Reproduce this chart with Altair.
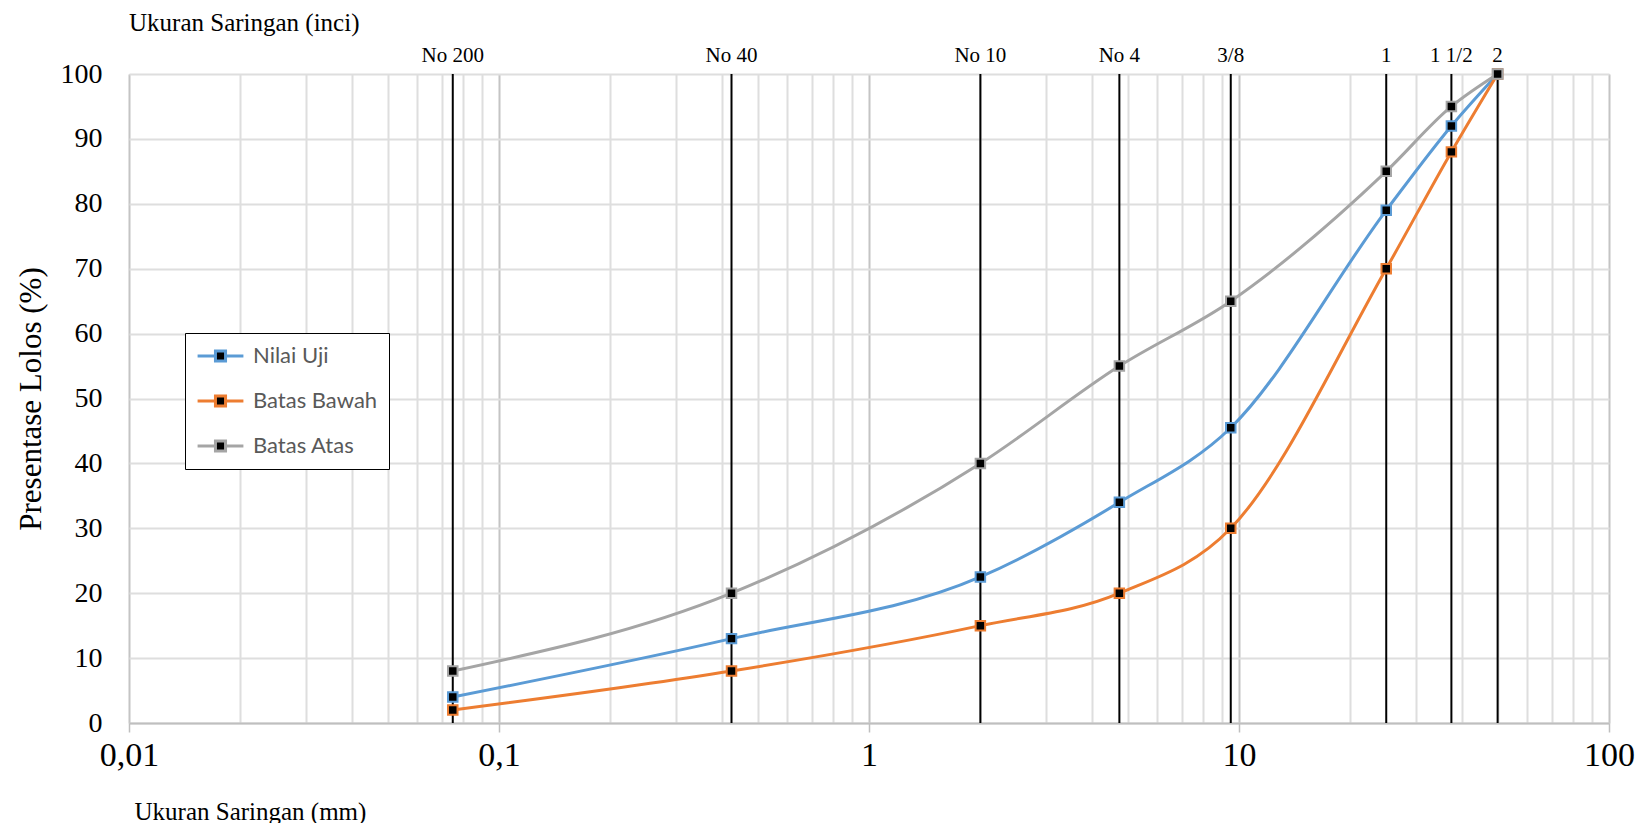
import altair as alt
import pandas as pd

# ---- data ----
sieve_mm = [0.075, 0.425, 2, 4.75, 9.5, 25, 37.5, 50]
sieve_names = ["No 200", "No 40", "No 10", "No 4", "3/8", "1", "1 1/2", "2"]
nilai_uji = [4, 13, 22.5, 34, 45.5, 79, 92, 100]
batas_bawah = [2, 8, 15, 20, 30, 70, 88, 100]
batas_atas = [8, 20, 40, 55, 65, 85, 95, 100]
series_names = ["Nilai Uji", "Batas Bawah", "Batas Atas"]
series_colors = ["#5B9BD5", "#ED7D31", "#A5A5A5"]

x_major_values = [0.01, 0.1, 1, 10, 100]
x_major_labels = ["0,01", "0,1", "1", "10", "100"]
x_all_values = [m * k for m in [0.01, 0.1, 1, 10] for k in range(1, 10)] + [100]
x_all_values = [round(v, 4) for v in x_all_values]
y_tick_values = list(range(0, 101, 10))

rows = []
for name, vals in zip(series_names, [nilai_uji, batas_bawah, batas_atas]):
    for s, v in zip(sieve_mm, vals):
        rows.append({"size": s, "pct": v, "series": name})
df = pd.DataFrame(rows)
sieves = pd.DataFrame({"size": sieve_mm, "name": sieve_names, "y0": 0, "y1": 100})

serif = "Liberation Serif"
major_list = "[" + ",".join(str(v) for v in x_major_values) + "]"
label_expr = " : ".join(
    f"datum.value == {v} ? '{l}'" for v, l in zip(x_major_values, x_major_labels)
) + " : ''"
is_major = f"indexof({major_list}, datum.value) >= 0"

xscale = alt.Scale(type="log", domain=[0.01, 100], nice=False)
yscale = alt.Scale(domain=[0, 100], nice=False)

x_axis = alt.Axis(
    values=x_all_values,
    labelExpr=label_expr,
    labelFont=serif, labelFontSize=34, labelColor="black",
    labelPadding=6, labelFlush=False, labelOverlap=False,
    tickSize=9, tickWidth=1.5,
    tickColor={"condition": {"test": is_major, "value": "#bfbfbf"}, "value": "transparent"},
    gridColor={"condition": {"test": is_major, "value": "#c4c4c4"}, "value": "#dedede"},
    gridWidth=2,
    domainColor="#bfbfbf", domainWidth=2,
    title="Ukuran Saringan (mm)",
    titleFont=serif, titleFontSize=25, titleFontWeight="normal", titleColor="black",
    titleX=5, titleY=88, titleAlign="left", titleBaseline="middle", titleAnchor="start",
)
y_axis = alt.Axis(
    values=y_tick_values,
    labelFont=serif, labelFontSize=28, labelColor="black",
    labelPadding=27, ticks=False, domain=False,
    gridColor="#dedede", gridWidth=2,
    title="Presentase Lolos (%)",
    titleFont=serif, titleFontSize=31, titleFontWeight="normal", titleColor="black",
    titleX=-98, titleY=324.5, titleAngle=270, titleAlign="center", titleBaseline="middle",
)

base = alt.Chart(df)

grid = base.mark_point(opacity=0).encode(
    x=alt.X("size:Q", scale=xscale, axis=x_axis),
    y=alt.Y("pct:Q", scale=yscale, axis=y_axis),
)

rules = alt.Chart(sieves).mark_rule(color="black", strokeWidth=2).encode(
    x=alt.X("size:Q", scale=xscale),
    y=alt.Y("y0:Q", scale=yscale),
    y2="y1:Q",
)

top_labels = alt.Chart(sieves).mark_text(
    font=serif, fontSize=21, color="black", baseline="alphabetic", align="center", dy=-12
).encode(
    x=alt.X("size:Q", scale=xscale),
    y=alt.Y("y1:Q", scale=yscale),
    text="name:N",
)

legend_path = "M-1,0L-0.22,0M0.22,0L1,0M-0.22,-0.22L0.22,-0.22L0.22,0.22L-0.22,0.22Z"

lines = base.mark_line(strokeWidth=3, interpolate="monotone").encode(
    x=alt.X("size:Q", scale=xscale),
    y=alt.Y("pct:Q", scale=yscale),
    color=alt.Color(
        "series:N",
        scale=alt.Scale(domain=series_names, range=series_colors),
        sort=series_names,
        legend=alt.Legend(
            title=None, orient="none", legendX=56, legendY=259,
            symbolType=legend_path, symbolSize=2100, symbolStrokeWidth=3,
            symbolFillColor="black",
            labelFont="Lato", labelFontSize=22, labelColor="#595959",
            labelOffset=8, rowPadding=21, clipHeight=24,
            padding=11, strokeColor="black", fillColor="white",
        ),
    ),
    order=alt.Order("size:Q"),
)

points = base.mark_point(shape="square", filled=True, fill="black", size=90, strokeWidth=2, opacity=1).encode(
    x=alt.X("size:Q", scale=xscale),
    y=alt.Y("pct:Q", scale=yscale),
    stroke=alt.Stroke(
        "series:N",
        scale=alt.Scale(domain=series_names, range=series_colors),
        legend=None,
    ),
)

top_title = alt.Chart(pd.DataFrame({"t": ["Ukuran Saringan (inci)"]})).mark_text(
    font=serif, fontSize=25, color="black", align="left", baseline="middle"
).encode(x=alt.value(0), y=alt.value(-51), text="t:N")

chart = alt.layer(grid, rules, lines, points, top_labels, top_title).properties(
    width=1480, height=649,
    autosize=alt.AutoSizeParams(type="none"),
    padding={"left": 121, "top": 66, "right": 26, "bottom": 100},
).configure_view(stroke=None).configure(background="white")

chart.save("out.html", embed_options={"renderer": "svg", "actions": False})
